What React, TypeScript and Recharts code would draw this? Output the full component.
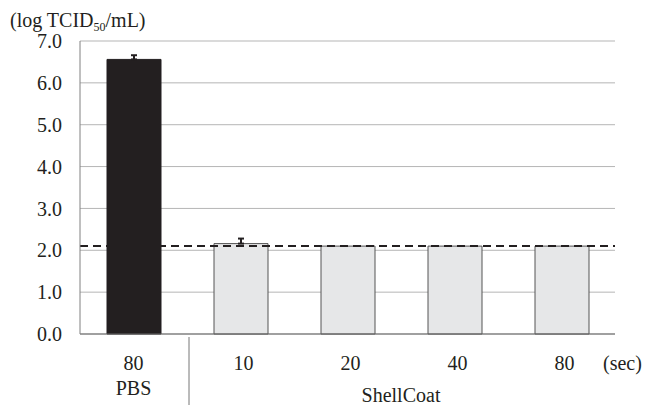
import React from 'react';
import { BarChart, Bar, XAxis, YAxis, CartesianGrid, ErrorBar, ReferenceLine, Cell } from 'recharts';

const groups = ['PBS', 'ShellCoat', 'ShellCoat', 'ShellCoat', 'ShellCoat'];
const times = ['80', '10', '20', '40', '80'];
const titers = [6.56, 2.16, 2.1, 2.1, 2.1];
const sds = [0.1, 0.12, 0, 0, 0];
const detectionLimit = 2.1;
const yTicks = [0, 1, 2, 3, 4, 5, 6, 7];

const data = times.map((t, i) => ({
  time: t,
  group: groups[i],
  titer: titers[i],
  err: sds[i] > 0 ? [0, sds[i]] : null,
}));

const FONT = 'Liberation Serif';
const INK = '#231f20';

const XTick = (props: any) => {
  const { x, y, payload, index } = props;
  const isPbs = groups[index] === 'PBS';
  return (
    <g>
      <text x={x + (isPbs ? 0 : 3)} y={y + 36} textAnchor="middle" style={{ fontFamily: FONT, fontSize: 20 }} fill={INK}>
        {payload.value}
      </text>
      {isPbs && (
        <text x={x} y={y + 61} textAnchor="middle" style={{ fontFamily: FONT, fontSize: 20 }} fill={INK}>
          {groups[index]}
        </text>
      )}
    </g>
  );
};

export default function App() {
  return (
    <div style={{ position: 'absolute', left: 0, top: 0, width: 647, height: 405, background: '#fff', fontFamily: FONT }}>
      <BarChart width={647} height={405} data={data} margin={{ top: 41, right: 32, left: 0, bottom: 0 }} barCategoryGap={0}>
        <CartesianGrid vertical={false} stroke="#b5b5b5" strokeWidth={1} />
        <XAxis
          dataKey="time"
          height={71}
          axisLine={{ stroke: '#666', strokeWidth: 1 }}
          tickLine={false}
          tickSize={0}
          tickMargin={0}
          tick={<XTick />}
          interval={0}
        />
        <YAxis
          width={80}
          domain={[0, 7]}
          ticks={yTicks}
          tickFormatter={(v: number) => v.toFixed(1)}
          axisLine={{ stroke: '#808080', strokeWidth: 1 }}
          tickLine={false}
          tickSize={0}
          tickMargin={18}
          tick={{ fontFamily: FONT, fontSize: 20, fill: INK, style: { fontFamily: FONT } }}
          interval={0}
        />
        <Bar dataKey="titer" barSize={54} isAnimationActive={false} strokeWidth={1}>
          {data.map((d, i) => (
            <Cell key={i} fill={d.group === 'PBS' ? INK : '#e6e7e8'} stroke={d.group === 'PBS' ? INK : '#555'} />
          ))}
          <ErrorBar dataKey="err" width={3} stroke={INK} strokeWidth={2} direction="y" isAnimationActive={false} />
        </Bar>
        <ReferenceLine y={detectionLimit} stroke={INK} strokeWidth={2} strokeDasharray="8 5" ifOverflow="extendDomain" />
      </BarChart>
      <svg width={647} height={405} style={{ position: 'absolute', left: 0, top: 0, pointerEvents: 'none', fontFamily: FONT }}>
        <text x={10} y={27} fontSize={20} fill={INK}>
          (log TCID
          <tspan fontSize={12} dy={4}>50</tspan>
          <tspan dy={-4}>/mL)</tspan>
        </text>
        <text x={401} y={402} textAnchor="middle" fontSize={20} fill={INK}>ShellCoat</text>
        <text x={603} y={370} fontSize={20} fill={INK}>(sec)</text>
        <line x1={189} y1={337} x2={189} y2={405} stroke="#777" strokeWidth={1} />
      </svg>
    </div>
  );
}
